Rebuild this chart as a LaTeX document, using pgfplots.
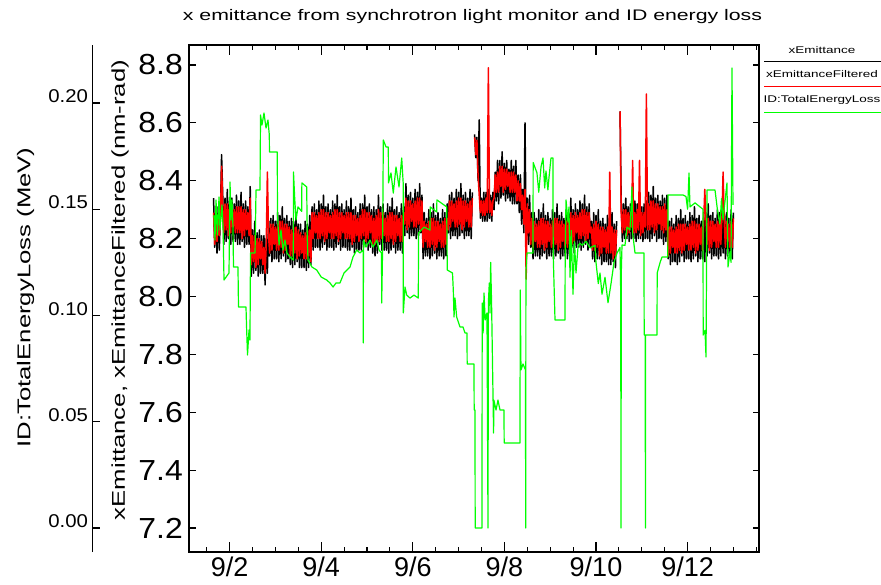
\documentclass[border=0pt]{standalone}
\usepackage{fontspec}
\setmainfont{Liberation Sans}
\newfontfamily\widefont{Liberation Sans}[FakeStretch=1.39]
\newfontfamily\numfont{Liberation Sans}[FakeStretch=1.1]
\usepackage{pgfplots}
\usepackage{pgfplotstable}
\pgfplotsset{compat=1.18}

% xEmittance (k) and xEmittanceFiltered (r), nm-rad, time in days of September
\pgfplotstableread{
d k r
1.650 8.34 8.29
1.675 8.17 8.18
1.700 8.30 8.28
1.725 8.15 8.19
1.750 8.31 8.28
1.775 8.16 8.21
1.800 8.29 8.27
1.825 8.49 8.45
1.850 8.35 8.31
1.875 8.18 8.22
1.900 8.34 8.32
1.925 8.19 8.23
1.950 8.37 8.32
1.975 8.20 8.21
2.000 8.33 8.31
2.025 8.18 8.22
2.050 8.34 8.31
2.075 8.19 8.24
2.100 8.32 8.30
2.125 8.19 8.22
2.150 8.35 8.31
2.175 8.18 8.22
2.200 8.33 8.31
2.225 8.18 8.22
2.250 8.36 8.31
2.275 8.19 8.20
2.300 8.32 8.30
2.325 8.17 8.21
2.350 8.33 8.30
2.375 8.18 8.23
2.400 8.31 8.29
2.425 8.18 8.21
2.450 8.38 8.34
2.475 8.07 8.11
2.500 8.23 8.21
2.525 8.08 8.12
2.550 8.26 8.21
2.575 8.09 8.10
2.600 8.22 8.20
2.625 8.07 8.11
2.650 8.23 8.20
2.675 8.08 8.13
2.700 8.21 8.19
2.725 8.08 8.11
2.750 8.21 8.17
2.775 8.04 8.08
2.800 8.20 8.18
2.825 8.08 8.43
2.850 8.26 8.21
2.875 8.14 8.15
2.900 8.27 8.25
2.925 8.12 8.16
2.950 8.28 8.25
2.975 8.13 8.18
3.000 8.26 8.24
3.025 8.13 8.16
3.050 8.29 8.25
3.075 8.12 8.16
3.100 8.28 8.26
3.125 8.13 8.17
3.150 8.31 8.26
3.175 8.14 8.15
3.200 8.27 8.25
3.225 8.12 8.16
3.250 8.28 8.25
3.275 8.13 8.18
3.300 8.26 8.24
3.325 8.11 8.14
3.350 8.27 8.23
3.375 8.10 8.14
3.400 8.26 8.24
3.425 8.11 8.15
3.450 8.29 8.24
3.475 8.12 8.13
3.500 8.25 8.23
3.525 8.10 8.14
3.550 8.25 8.22
3.575 8.10 8.15
3.600 8.23 8.21
3.625 8.10 8.13
3.650 8.26 8.22
3.675 8.09 8.13
3.700 8.25 8.23
3.725 8.10 8.14
3.750 8.28 8.23
3.775 8.11 8.12
3.800 8.31 8.29
3.825 8.16 8.20
3.850 8.32 8.29
3.875 8.17 8.22
3.900 8.30 8.28
3.925 8.17 8.20
3.950 8.33 8.29
3.975 8.16 8.20
4.000 8.32 8.30
4.025 8.17 8.21
4.050 8.35 8.30
4.075 8.18 8.19
4.100 8.31 8.29
4.125 8.16 8.20
4.150 8.32 8.29
4.175 8.17 8.22
4.200 8.30 8.28
4.225 8.17 8.20
4.250 8.33 8.29
4.275 8.16 8.20
4.300 8.32 8.30
4.325 8.17 8.21
4.350 8.35 8.30
4.375 8.18 8.19
4.400 8.31 8.29
4.425 8.16 8.20
4.450 8.32 8.29
4.475 8.17 8.22
4.500 8.30 8.28
4.525 8.17 8.20
4.550 8.33 8.29
4.575 8.16 8.20
4.600 8.31 8.29
4.625 8.16 8.20
4.650 8.34 8.29
4.675 8.17 8.18
4.700 8.30 8.28
4.725 8.15 8.19
4.750 8.31 8.28
4.775 8.16 8.21
4.800 8.29 8.27
4.825 8.16 8.19
4.850 8.32 8.28
4.875 8.16 8.20
4.900 8.32 8.30
4.925 8.17 8.21
4.950 8.35 8.30
4.975 8.18 8.19
5.000 8.31 8.29
5.025 8.16 8.20
5.050 8.32 8.29
5.075 8.17 8.22
5.100 8.30 8.28
5.125 8.15 8.18
5.150 8.31 8.27
5.175 8.14 8.18
5.200 8.30 8.28
5.225 8.15 8.19
5.250 8.35 8.30
5.275 8.18 8.19
5.300 8.31 8.29
5.325 8.16 8.20
5.350 8.32 8.29
5.375 8.16 8.21
5.400 8.29 8.27
5.425 8.16 8.19
5.450 8.32 8.28
5.475 8.15 8.19
5.500 8.31 8.29
5.525 8.16 8.20
5.550 8.34 8.29
5.575 8.17 8.18
5.600 8.30 8.28
5.625 8.15 8.19
5.650 8.31 8.28
5.675 8.16 8.21
5.700 8.29 8.27
5.725 8.16 8.19
5.750 8.32 8.28
5.775 8.15 8.19
5.800 8.31 8.29
5.825 8.21 8.25
5.850 8.39 8.34
5.875 8.22 8.23
5.900 8.35 8.33
5.925 8.20 8.24
5.950 8.36 8.33
5.975 8.21 8.26
6.000 8.34 8.32
6.025 8.21 8.24
6.050 8.37 8.33
6.075 8.20 8.24
6.100 8.36 8.34
6.125 8.21 8.25
6.150 8.39 8.34
6.175 8.22 8.23
6.200 8.35 8.33
6.225 8.13 8.17
6.250 8.29 8.26
6.275 8.14 8.19
6.300 8.27 8.25
6.325 8.14 8.17
6.350 8.30 8.26
6.375 8.13 8.17
6.400 8.29 8.27
6.425 8.14 8.18
6.450 8.32 8.27
6.475 8.15 8.16
6.500 8.28 8.26
6.525 8.13 8.17
6.550 8.29 8.26
6.575 8.14 8.19
6.600 8.27 8.25
6.625 8.14 8.17
6.650 8.30 8.26
6.675 8.13 8.17
6.700 8.29 8.27
6.725 8.14 8.18
6.750 8.32 8.27
6.775 8.22 8.23
6.800 8.35 8.33
6.825 8.20 8.24
6.850 8.36 8.33
6.875 8.21 8.26
6.900 8.34 8.32
6.925 8.21 8.24
6.950 8.37 8.33
6.975 8.20 8.24
7.000 8.36 8.34
7.025 8.21 8.25
7.050 8.39 8.34
7.075 8.22 8.23
7.100 8.35 8.33
7.125 8.20 8.24
7.150 8.36 8.33
7.175 8.21 8.26
7.200 8.34 8.32
7.225 8.21 8.24
7.250 8.37 8.33
7.275 8.20 8.24
7.300 8.36 8.34
7.325 nan nan
7.350 8.56 8.55
7.375 8.48 8.49
7.400 8.55 8.54
7.425 8.40 8.42
7.450 8.61 8.35
7.475 8.27 8.29
7.500 8.34 8.33
7.525 8.26 8.28
7.550 8.36 8.33
7.575 8.26 8.28
7.600 8.36 8.34
7.625 8.26 8.29
7.650 8.37 8.79
7.675 8.27 8.29
7.700 8.35 8.33
7.725 8.26 8.28
7.750 8.36 8.33
7.775 8.30 8.34
7.800 8.43 8.42
7.825 8.33 8.36
7.850 8.47 8.43
7.875 8.32 8.36
7.900 8.47 8.45
7.925 8.34 8.38
7.950 8.50 8.45
7.975 8.35 8.36
8.000 8.46 8.44
8.025 8.33 8.37
8.050 8.47 8.44
8.075 8.34 8.38
8.100 8.44 8.43
8.125 8.33 8.36
8.150 8.47 8.43
8.175 8.32 8.36
8.200 8.45 8.43
8.225 8.32 8.36
8.250 8.47 8.42
8.275 8.32 8.33
8.300 8.42 8.40
8.325 8.29 8.33
8.350 8.42 8.39
8.375 8.25 8.30
8.400 8.37 8.35
8.425 8.22 8.25
8.450 8.60 8.37
8.475 8.20 8.06
8.500 8.34 8.32
8.525 8.18 8.22
8.550 8.35 8.30
8.575 8.17 8.18
8.600 8.29 8.27
8.625 8.13 8.17
8.650 8.29 8.26
8.675 8.14 8.19
8.700 8.27 8.25
8.725 8.14 8.17
8.750 8.30 8.26
8.775 8.13 8.17
8.800 8.29 8.27
8.825 8.14 8.18
8.850 8.32 8.27
8.875 8.15 8.16
8.900 8.28 8.26
8.925 8.13 8.17
8.950 8.29 8.26
8.975 8.14 8.19
9.000 8.27 8.25
9.025 8.14 8.17
9.050 8.30 8.26
9.075 8.13 8.17
9.100 8.29 8.27
9.125 8.14 8.18
9.150 8.32 8.27
9.175 8.15 8.16
9.200 8.28 8.26
9.225 8.13 8.17
9.250 8.29 8.26
9.275 8.14 8.19
9.300 8.27 8.25
9.325 8.14 8.17
9.350 8.30 8.26
9.375 8.13 8.17
9.400 8.29 8.27
9.425 8.14 8.18
9.450 8.34 8.29
9.475 8.17 8.18
9.500 8.30 8.28
9.525 8.15 8.19
9.550 8.32 8.29
9.575 8.17 8.22
9.600 8.30 8.28
9.625 8.17 8.20
9.650 8.33 8.29
9.675 8.16 8.20
9.700 8.32 8.30
9.725 8.17 8.21
9.750 8.35 8.30
9.775 8.18 8.19
9.800 8.31 8.29
9.825 8.16 8.20
9.850 8.32 8.29
9.875 8.17 8.22
9.900 8.26 8.24
9.925 8.13 8.16
9.950 8.29 8.25
9.975 8.12 8.16
10.000 8.28 8.26
10.025 8.13 8.17
10.050 8.30 8.25
10.075 8.13 8.14
10.100 8.26 8.24
10.125 8.11 8.15
10.150 8.27 8.24
10.175 8.12 8.17
10.200 8.25 8.23
10.225 8.12 8.15
10.250 8.28 8.24
10.275 8.11 8.15
10.300 8.27 8.43
10.325 8.11 8.15
10.350 8.29 8.24
10.375 8.12 8.13
10.400 8.25 8.23
10.425 8.10 8.14
10.450 8.26 8.23
10.475 nan nan
10.525 8.64 8.64
10.550 8.33 8.29
10.575 8.19 8.22
10.600 8.32 8.30
10.625 8.20 8.23
10.650 8.34 8.30
10.675 8.20 8.21
10.700 8.31 8.29
10.725 8.19 8.22
10.750 8.32 8.29
10.775 8.20 8.24
10.800 8.30 8.47
10.825 8.20 8.22
10.850 8.33 8.29
10.875 8.19 8.22
10.900 8.32 8.30
10.925 8.20 8.23
10.950 8.34 8.47
10.975 8.20 8.21
11.000 8.31 8.29
11.025 8.19 8.22
11.050 8.32 8.29
11.075 8.20 8.24
11.100 8.33 8.70
11.125 8.20 8.23
11.150 8.36 8.32
11.175 8.19 8.23
11.200 8.35 8.33
11.225 8.20 8.24
11.250 8.38 8.33
11.275 8.21 8.22
11.300 8.34 8.32
11.325 8.19 8.23
11.350 8.35 8.32
11.375 8.20 8.25
11.400 8.33 8.31
11.425 8.20 8.23
11.450 8.35 8.31
11.475 8.18 8.22
11.500 8.34 8.32
11.525 8.19 8.23
11.550 8.35 8.30
11.575 8.13 8.14
11.600 8.26 8.24
11.625 8.11 8.15
11.650 8.27 8.24
11.675 8.12 8.17
11.700 8.25 8.23
11.725 8.12 8.15
11.750 8.28 8.24
11.775 8.11 8.15
11.800 8.27 8.25
11.825 8.12 8.16
11.850 8.30 8.25
11.875 8.14 8.15
11.900 8.27 8.25
11.925 8.12 8.16
11.950 8.28 8.25
11.975 8.13 8.18
12.000 8.26 8.24
12.025 8.13 8.16
12.050 8.29 8.25
12.075 8.12 8.16
12.100 8.28 8.26
12.125 8.13 8.17
12.150 8.31 8.26
12.175 8.14 8.15
12.200 8.27 8.25
12.225 8.12 8.16
12.250 8.28 8.25
12.275 8.13 8.18
12.300 8.26 8.24
12.325 8.13 8.16
12.350 8.29 8.25
12.375 8.12 8.37
12.400 8.29 8.27
12.425 8.14 8.18
12.450 8.32 8.27
12.475 8.15 8.16
12.500 8.28 8.26
12.525 8.13 8.17
12.550 8.29 8.26
12.575 8.14 8.19
12.600 8.27 8.25
12.625 8.14 8.17
12.650 8.30 8.26
12.675 8.13 8.17
12.700 8.29 8.27
12.725 8.14 8.18
12.750 8.32 8.27
12.775 8.15 8.43
12.800 8.28 8.26
12.825 8.13 8.17
12.850 8.29 8.26
12.875 8.14 8.19
12.900 8.27 8.25
12.925 8.14 8.17
12.950 8.30 8.26
12.975 8.13 8.17
13.000 8.29 8.27
}\emittance

% ID:TotalEnergyLoss, MeV
\pgfplotstableread{
d e
1.659 0.1473
1.681 0.1355
1.703 0.1544
1.736 0.1379
1.769 0.1558
1.790 0.1402
1.834 0.1520
1.856 0.1426
1.878 0.1167
1.987 0.1200
2.009 0.1628
2.031 0.1449
2.052 0.1544
2.074 0.1416
2.085 0.1228
2.183 0.1228
2.194 0.1040
2.358 0.1040
2.369 0.0955
2.391 0.0814
2.424 0.0932
2.445 0.0885
2.456 0.1294
2.555 0.1294
2.577 0.1591
2.664 0.1591
2.675 0.1944
2.707 0.1896
2.751 0.1953
2.795 0.1882
2.838 0.1920
2.867 0.1849
2.870 0.1769
3.041 0.1769
3.045 0.1482
3.079 0.1332
3.122 0.1402
3.166 0.1308
3.210 0.1355
3.253 0.1294
3.319 0.1275
3.391 0.1261
3.395 0.1675
3.420 0.1558
3.450 0.1449
3.493 0.1511
3.574 0.1490
3.578 0.1624
3.683 0.1605
3.697 0.1355
3.712 0.1261
3.799 0.1228
3.902 0.1214
4.000 0.1181
4.120 0.1167
4.192 0.1153
4.258 0.1134
4.323 0.1153
4.410 0.1153
4.498 0.1200
4.563 0.1214
4.629 0.1228
4.694 0.1275
4.775 0.1308
4.847 0.1294
4.915 0.1308
4.919 0.0871
4.923 0.1355
4.978 0.1322
5.066 0.1355
5.131 0.1322
5.212 0.1355
5.262 0.1308
5.317 0.1294
5.321 0.1059
5.340 0.1308
5.356 0.1826
5.415 0.1793
5.465 0.1793
5.469 0.1624
5.524 0.1671
5.574 0.1576
5.633 0.1699
5.699 0.1605
5.758 0.1741
5.790 0.1624
5.793 0.1012
5.830 0.1134
5.867 0.1096
5.939 0.1082
6.026 0.1096
6.120 0.1082
6.125 0.1388
6.245 0.1416
6.376 0.1402
6.380 0.1511
6.522 0.1487
6.526 0.1544
6.740 0.1511
6.753 0.1214
6.867 0.1200
6.884 0.1120
6.900 0.0993
6.921 0.1082
6.958 0.0993
7.031 0.0946
7.096 0.0946
7.140 0.0918
7.183 0.0918
7.187 0.0772
7.336 0.0772
7.340 0.0555
7.358 0.0555
7.362 0.0
7.511 0.0
7.515 0.1059
7.535 0.0918
7.555 0.1106
7.580 0.0979
7.620 0.1012
7.642 0.0
7.650 0.1059
7.670 0.1153
7.686 0.1012
7.700 0.1250
7.720 0.1059
7.764 0.0447
7.770 0.0602
7.817 0.0555
7.860 0.0602
7.904 0.0555
7.991 0.0555
7.995 0.0400
8.341 0.0400
8.345 0.1120
8.362 0.0744
8.406 0.0772
8.460 0.0744
8.465 0.0
8.470 0.1200
8.493 0.1294
8.624 0.1294
8.628 0.1720
8.711 0.1671
8.750 0.1580
8.800 0.1700
8.843 0.1741
8.880 0.1600
8.908 0.1680
8.950 0.1591
8.974 0.1650
9.017 0.1741
9.061 0.1741
9.065 0.1294
9.105 0.0979
9.323 0.0979
9.327 0.1275
9.345 0.1544
9.389 0.1440
9.410 0.1511
9.432 0.1180
9.460 0.1400
9.498 0.1100
9.530 0.1350
9.563 0.1200
9.610 0.1330
9.651 0.1340
9.700 0.1330
9.782 0.1350
9.869 0.1318
9.978 0.1330
10.000 0.1250
10.050 0.1150
10.087 0.1200
10.131 0.1100
10.197 0.1180
10.262 0.1060
10.328 0.1150
10.393 0.1250
10.459 0.1294
10.524 0.1320
10.540 0.1100
10.546 0.0
10.552 0.1200
10.568 0.1332
10.633 0.1330
10.677 0.1416
10.742 0.1402
10.786 0.1605
10.800 0.1388
10.852 0.1294
10.961 0.1294
11.048 0.1294
11.052 0.0908
11.075 0.0908
11.079 0.0
11.083 0.0908
11.332 0.0908
11.336 0.1200
11.400 0.1250
11.441 0.1275
11.568 0.1275
11.572 0.1567
11.900 0.1567
11.965 0.1560
12.000 0.1500
12.031 0.1671
12.052 0.1511
12.162 0.1530
12.271 0.1511
12.336 0.1500
12.340 0.0908
12.380 0.0930
12.402 0.0805
12.410 0.1100
12.424 0.1591
12.598 0.1591
12.650 0.1500
12.707 0.1430
12.740 0.1550
12.773 0.1450
12.860 0.1624
12.882 0.1228
12.926 0.1300
12.948 0.1250
12.969 0.2165
12.991 0.1520
}\energyloss

\begin{document}
\begin{tikzpicture}
\useasboundingbox (-189bp,-33bp) rectangle (692bp,552bp);

\pgfplotsset{
  plotframe/.style={
    scale only axis, width=570bp, height=507bp,
    at={(0bp,0bp)}, anchor=south west,
    xmin=1.1135, xmax=13.559,
  },
}

% emittance axis: frame, date ticks, nm-rad scale
\begin{axis}[plotframe,
  ymin=7.117, ymax=8.869,
  unbounded coords=jump,
  xtick={2,4,6,8,10,12},
  xticklabels={9/2,9/4,9/6,9/8,9/10,9/12},
  minor xtick={1.5,2.5,3,3.5,4.5,5,5.5,6.5,7,7.5,8.5,9,9.5,10.5,11,11.5,12.5,13,13.5},
  ytick={7.2,7.4,7.6,7.8,8.0,8.2,8.4,8.6,8.8},
  tick align=inside,
  major tick length=10bp, minor tick length=5bp,
  ytick style={/pgfplots/major tick length=6.5bp},
  tick style={black, line width=1.1bp},
  axis line style={black, line width=1.3bp},
  xticklabel style={font=\normalfont\fontsize{27bp}{27bp}\selectfont, anchor=north, inner sep=0pt, yshift=-5bp},
  yticklabel style={font=\numfont\fontsize{29bp}{29bp}\selectfont, anchor=east, inner sep=0pt, xshift=-6bp,
    /pgf/number format/.cd, fixed, fixed zerofill, precision=1, assume math mode=true},
]
\addplot[black, line width=1.5bp, line join=round] table[x=d, y=k] {\emittance};
\addplot[red, line width=1.5bp, line join=round] table[x=d, y=r] {\emittance};
\end{axis}

% energy loss on its own MeV scale, same plotting area
\begin{axis}[plotframe,
  ymin=-0.01129, ymax=0.22729,
  hide axis,
]
\addplot[green, line width=1.2bp, line join=round] table[x=d, y=e] {\energyloss};
\end{axis}

% outer MeV axis line
\begin{axis}[
  scale only axis, width=20bp, height=507bp,
  at={(-96.3bp,0bp)}, anchor=south west,
  xmin=0, xmax=1, ymin=-0.01129, ymax=0.22729,
  hide x axis, axis y line*=left,
  ytick={0,0.05,0.1,0.15,0.2},
  tick align=inside, major tick length=7bp,
  tick style={black, line width=1.1bp},
  axis line style={black, line width=1.3bp},
  yticklabel style={font=\numfont\fontsize{18.5bp}{18.5bp}\selectfont, anchor=south east, inner sep=0pt, xshift=-4.5bp,
    /pgf/number format/.cd, fixed, fixed zerofill, precision=2, assume math mode=true},
]
\addplot[draw=none] coordinates {(0.5,0.1)};
\end{axis}

% title and axis labels
\node[font=\widefont\fontsize{15.3bp}{16bp}\selectfont] at (283.5bp,535bp)
  {x emittance from synchrotron light monitor and ID energy loss};
\node[rotate=90, font=\widefont\fontsize{18.5bp}{19bp}\selectfont] at (-69bp,262bp)
  {xEmittance, xEmittanceFiltered (nm-rad)};
\node[rotate=90, font=\widefont\fontsize{18.5bp}{19bp}\selectfont] at (-163.5bp,254.5bp)
  {ID:TotalEnergyLoss (MeV)};

% legend
\begin{scope}[font=\widefont\fontsize{9.7bp}{10bp}\selectfont]
\node[anchor=base] at (633bp,498bp) {xEmittance};
\draw[black, line width=1.3bp] (575bp,490.3bp) -- (692bp,490.3bp);
\node[anchor=base] at (633bp,474bp) {xEmittanceFiltered};
\draw[red, line width=1.3bp] (575bp,465.3bp) -- (692bp,465.3bp);
\node[anchor=base] at (633bp,449bp) {ID:TotalEnergyLoss};
\draw[green, line width=1.3bp] (575bp,439.7bp) -- (692bp,439.7bp);
\end{scope}
\end{tikzpicture}
\end{document}
